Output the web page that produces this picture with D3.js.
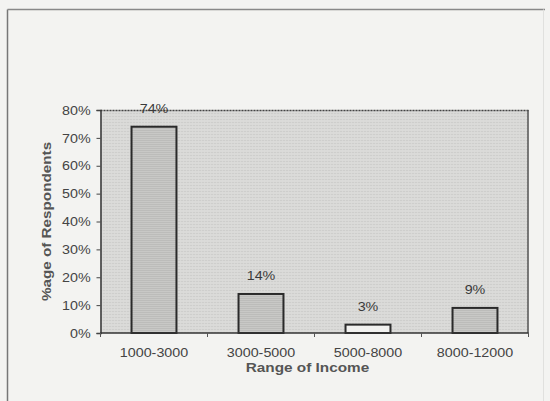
<!DOCTYPE html>
<html>
<head>
<meta charset="utf-8">
<script src="https://cdn.jsdelivr.net/npm/d3@7"></script>
<style>
  html, body { margin: 0; padding: 0; background: #f3f3f1; }
  svg { display: block; }
  text { font-family: "Liberation Sans", Arial, sans-serif; }
</style>
</head>
<body>
<svg id="chart" width="550" height="401"></svg>
<script>
// Income ranges and share of respondents in each
const categories = ["1000-3000", "3000-5000", "5000-8000", "8000-12000"];
const values = [74, 14, 3, 9];
const yTicks = [0, 10, 20, 30, 40, 50, 60, 70, 80];
const barFills = ["shade", "shade", "#f1f1ef", "shade"];

const svg = d3.select("#chart");
const W = 550, H = 401;
const plot = { left: 100.5, right: 528.5, top: 110, bottom: 333 };
const plotW = plot.right - plot.left;
const plotH = plot.bottom - plot.top;
const stretch = 1.1; // glyphs are set slightly wide

// outer frame
svg.append("rect").attr("width", W).attr("height", H).attr("fill", "#f3f3f1");
svg.append("line").attr("x1", 7.5).attr("x2", 7.5).attr("y1", 9.5).attr("y2", H).attr("stroke", "#777").attr("stroke-width", 1.5);
svg.append("line").attr("x1", 7.5).attr("x2", 545).attr("y1", 9.5).attr("y2", 9.5).attr("stroke", "#888").attr("stroke-width", 1.5);
svg.append("line").attr("x1", 543.5).attr("x2", 543.5).attr("y1", 9.5).attr("y2", H).attr("stroke", "#e0e0de").attr("stroke-width", 1);

// stippled fills
const defs = svg.append("defs");
const pat = defs.append("pattern").attr("id", "stipple").attr("width", 3).attr("height", 3).attr("patternUnits", "userSpaceOnUse");
pat.append("rect").attr("width", 3).attr("height", 3).attr("fill", "#d8d8d6");
pat.append("rect").attr("width", 1).attr("height", 1).attr("fill", "#c4c4c2");
pat.append("rect").attr("x", 1.5).attr("y", 1.5).attr("width", 1).attr("height", 1).attr("fill", "#e4e4e2");

const patBar = defs.append("pattern").attr("id", "stippleBar").attr("width", 2).attr("height", 2).attr("patternUnits", "userSpaceOnUse");
patBar.append("rect").attr("width", 2).attr("height", 2).attr("fill", "#c8c8c6");
patBar.append("rect").attr("width", 1).attr("height", 1).attr("fill", "#b0b0ae");

const g = svg.append("g").attr("transform", `translate(${plot.left},${plot.top})`);

const x = d3.scaleBand().domain(categories).range([0, plotW]).paddingInner(0.58).paddingOuter(0.29);
const xTickScale = d3.scaleBand().domain(categories).range([0, plotW]);
const y = d3.scaleLinear().domain([0, 80]).range([plotH, 0]);

g.append("rect").attr("width", plotW).attr("height", plotH).attr("fill", "url(#stipple)");
// plot border: dotted top, solid right
g.append("line").attr("x1", 0).attr("x2", plotW).attr("y1", 0.5).attr("y2", 0.5)
  .attr("stroke", "#444").attr("stroke-width", 1.5).attr("stroke-dasharray", "2,1");
g.append("line").attr("x1", plotW - 0.5).attr("x2", plotW - 0.5).attr("y1", 0).attr("y2", plotH)
  .attr("stroke", "#555").attr("stroke-width", 1.5);

// bars
g.selectAll(".bar").data(values).enter().append("rect")
  .attr("class", "bar")
  .attr("x", (d, i) => x(categories[i]))
  .attr("y", d => y(d))
  .attr("width", x.bandwidth())
  .attr("height", d => plotH - y(d))
  .attr("fill", (d, i) => barFills[i] === "shade" ? "url(#stippleBar)" : barFills[i])
  .attr("stroke", "#2a2a2a")
  .attr("stroke-width", 2);

// value labels
g.selectAll(".val").data(values).enter().append("g")
  .attr("class", "val")
  .attr("transform", (d, i) => `translate(${x(categories[i]) + x.bandwidth() / 2},${y(d) - 13.5}) scale(${stretch},1)`)
  .append("text")
  .attr("text-anchor", "middle")
  .attr("font-size", 13)
  .attr("fill", "#3a3a3a")
  .text(d => d + "%");

// y axis
const yAxis = d3.axisLeft(y).tickValues(yTicks).tickFormat(d => d + "%").tickSize(4).tickPadding(5);
const yg = g.append("g").call(yAxis);
yg.select(".domain").attr("stroke", "#333").attr("stroke-width", 1.5);
yg.selectAll(".tick line").attr("stroke", "#444");
yg.selectAll(".tick text")
  .attr("font-size", 13).attr("fill", "#444")
  .attr("font-family", "Liberation Sans, Arial, sans-serif")
  .attr("transform", `scale(${stretch},1)`);

// x axis with ticks between categories
const xg = g.append("g").attr("transform", `translate(0,${plotH})`);
xg.append("line").attr("x1", 0).attr("x2", plotW).attr("y1", 0).attr("y2", 0).attr("stroke", "#333").attr("stroke-width", 1.5);
const boundaries = categories.map(d => xTickScale(d)).concat([plotW]);
xg.selectAll(".xt").data(boundaries).enter().append("line")
  .attr("x1", d => d).attr("x2", d => d)
  .attr("y1", 0).attr("y2", 4).attr("stroke", "#555");
xg.selectAll(".xl").data(categories).enter().append("g")
  .attr("transform", d => `translate(${xTickScale(d) + xTickScale.bandwidth() / 2},24) scale(${stretch},1)`)
  .append("text")
  .attr("text-anchor", "middle")
  .attr("font-size", 13)
  .attr("fill", "#444")
  .text(d => d);

// axis titles
svg.append("g")
  .attr("transform", `translate(${(plot.left + plot.right) / 2 - 7},371.5) scale(1.18,1)`)
  .append("text")
  .attr("text-anchor", "middle")
  .attr("font-size", 13)
  .attr("font-weight", "bold")
  .attr("fill", "#555")
  .text("Range of Income");

svg.append("g")
  .attr("transform", `translate(51,${(plot.top + plot.bottom) / 2}) rotate(-90) scale(1.13,1)`)
  .append("text")
  .attr("text-anchor", "middle")
  .attr("font-size", 13.5)
  .attr("font-weight", "bold")
  .attr("fill", "#555")
  .text("%age of Respondents");
</script>
</body>
</html>
